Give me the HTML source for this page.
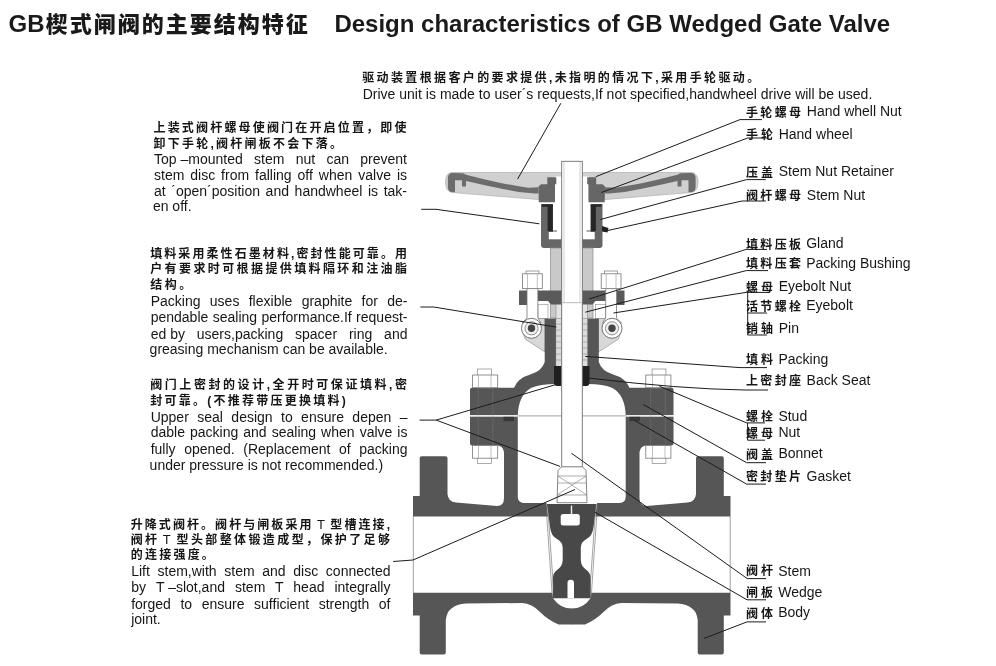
<!DOCTYPE html>
<html lang="zh"><head><meta charset="utf-8"><title>GB Wedged Gate Valve</title>
<style>
html,body{margin:0;padding:0;background:#fff;}
body{width:996px;height:666px;position:relative;overflow:hidden;font-family:"Liberation Sans","Noto Sans CJK SC",sans-serif;color:#161616;}
.t{position:absolute;white-space:nowrap;line-height:1;}
#txt{position:absolute;left:0;top:0;width:996px;height:666px;will-change:transform;}
.e{font-size:14px;}
.c{font-size:12px;font-weight:700;}
.ib{display:inline-block;white-space:pre;}
.lt{font-weight:400;font-size:13px;}
.j{text-align:justify;text-align-last:justify;white-space:normal;}
.h1{font-size:24px;font-weight:700;color:#1a1a1a;}
.h1 .zh{font-size:22px;font-weight:900;letter-spacing:2px;}
svg{position:absolute;left:0;top:0;}
</style></head>
<body>
<svg width="996" height="666" viewBox="0 0 996 666">


<g id="valve">
  <g>
    <!-- handwheel light shell -->
    <path d="M572,172.5 L451,172.5 Q445.5,173.5 445.5,182 Q445.5,191.5 452,192.5 L538,199.5 L572,199.5 Z" fill="#d0d0d0" stroke="#a8a8a8" stroke-width="0.6"/>
    <!-- white gap near stem -->
    <rect x="555" y="176.5" width="17" height="25" fill="#fff"/>
    <!-- rim hook -->
    <path d="M452,173 L463,173.3 Q466,174 466,177 L466,186.5 L462,186.5 L462,180.2 L455,180.2 L455,192.2 L451,192 Q447.9,191 447.9,187 L447.9,178 Q447.9,173.3 452,173 Z" fill="#6c6c6c"/>
    <!-- spoke -->
    <path d="M464,174.2 L487.3,179.9 L503,183.4 L518.8,186.2 L528.3,187.8 L538.5,187.3 L538.5,193.6 L534.6,193.6 L518.8,192 L503,188.9 L487.3,185.7 L466,181 Z" fill="#6c6c6c"/>
    <!-- hub -->
    <path d="M538.5,186.5 L541,184.3 L547.3,184.3 L547.3,177.2 L556.3,177.2 L556.3,184.3 L555,184.3 L555,202.3 L538.8,202.3 Z" fill="#666"/>
    <!-- yoke sleeve / stem nut housing -->
    <path d="M541,204 L553,204 L553,232 L561.6,232 L561.6,248 L544,248 Q541,248 541,245 Z" fill="#666"/>
    <rect x="548.8" y="232" width="12.8" height="7.3" fill="#fff"/>
    <rect x="553" y="204" width="8.6" height="28" fill="#fff"/>
    <rect x="547.6" y="205.5" width="5.2" height="25.5" fill="#262626"/>
    <rect x="542" y="204.3" width="10.8" height="2.4" fill="#262626"/>
    <path d="M549,231 L557,231" stroke="#333" stroke-width="0.8"/>
    <!-- yoke arm -->
    <rect x="550.5" y="248" width="11.5" height="70" fill="#c9c9c9" stroke="#8a8a8a" stroke-width="0.7"/>
    <!-- gland flange -->
    <rect x="519" y="290.5" width="8" height="14.5" fill="#5a5a5a"/>
    <path d="M537.8,290.5 L562,290.5 L562,304.5 L551,304.5 L548,301 L537.8,301 Z" fill="#5a5a5a"/>
    <!-- gland sleeve -->
    <rect x="556" y="304.5" width="6" height="14" fill="#e4e4e4" stroke="#8a8a8a" stroke-width="0.6"/>
    <rect x="538" y="304.5" width="10" height="14" fill="#fff" stroke="#8a8a8a" stroke-width="0.6"/>
    <!-- eyebolt nut -->
    <rect x="526" y="271" width="13" height="3.5" fill="#fff" stroke="#777" stroke-width="0.7"/>
    <rect x="522.5" y="273.8" width="19.8" height="14.8" fill="#fff" stroke="#777" stroke-width="0.8"/>
    <path d="M527.5,274 V288.5 M537.3,274 V288.5" stroke="#999" stroke-width="0.6"/>
    <!-- rib -->
    <path d="M537.8,318.5 L545,318.5 L545,352 L525,339 L523,333 Z" fill="#d8d8d8" stroke="#888" stroke-width="0.6"/>
    <!-- eyebolt shank + eye -->
    <path d="M527,288.6 L537.8,288.6 L537.8,318 L541,323 L522,323 L527,318 Z" fill="#fff" stroke="#777" stroke-width="0.8"/>
    <circle cx="531.5" cy="328.3" r="10" fill="#fff" stroke="#666" stroke-width="0.9"/>
    <circle cx="531.5" cy="328.3" r="6.6" fill="#eee" stroke="#777" stroke-width="0.8"/>
    <circle cx="531.5" cy="328.3" r="3.7" fill="#454545"/>
    <!-- packing -->
    <rect x="555.9" y="318.4" width="6.2" height="48" fill="#dcdcdc" stroke="#8a8a8a" stroke-width="0.5"/>
    <path d="M556,324 H562 M556,330 H562 M556,336 H562 M556,342 H562 M556,348 H562 M556,354 H562 M556,360 H562" stroke="#8a8a8a" stroke-width="0.6"/>
    <!-- bonnet (stuffing box + dome + flange) -->
    <path d="M544.7,318.4 L555.9,318.4 L555.9,384 Q540,384 531,388 Q518.5,395 517.8,415.3 L470,415.3 L470,389.7 Q470,387.7 472,387.7 L514,387.7 Q518,378 530.3,374.5 Q542,371 544.7,362 Z" fill="#565656"/>
    <!-- back seat -->
    <path d="M554,366 L561.7,366 L561.7,386 L557,386 Q554,386 554,382 Z" fill="#1f1f1f"/>
    <!-- gasket notch -->
    
    <!-- body flange top + neck + body -->
    <path d="M470,416.6 L517.8,416.6 L517.8,497 Q518,503 525,503 L546.5,503 L548,516.4 L413,516.4 L413,496 L419.7,496 L419.7,458 Q419.7,456.3 421.5,456.3 L445.5,456.3 Q447.5,456.3 447.5,458 L447.5,494 Q448,501.5 456,502.6 L497,506 Q504,506 504,498 L504,452 Q503,445.4 497,445.4 L472,445.4 Q470,445.4 470,443.4 Z" fill="#565656"/>
    <!-- body bottom -->
    <path d="M413,592.8 L552,592.8 L553,598.2 Q560,608.5 572,608.5 L572,624.5 L558.5,624.5 Q548,620 540,612 Q532,603.5 522,603 L466,603.5 Q447,605 445.8,620 L445.8,652.5 Q445.8,654.5 443.8,654.5 L421.7,654.5 Q419.7,654.5 419.7,652.5 L419.7,615.5 L413,615.5 Z" fill="#565656"/>
    <rect x="503.5" y="416.6" width="10.5" height="4.6" fill="#383838"/>
    <!-- flange face line -->
    <path d="M413.3,516 V593" stroke="#777" stroke-width="0.7"/>
    <!-- stud + nuts -->
    <rect x="477.6" y="369" width="13.8" height="19" fill="#fff" stroke="#888" stroke-width="0.7"/>
    <rect x="472.6" y="375" width="25.1" height="12.7" fill="#fff" stroke="#777" stroke-width="0.8"/>
    <path d="M478.5,375 V387.5 M491,375 V387.5" stroke="#999" stroke-width="0.6"/>
    <rect x="477.6" y="445.4" width="13.8" height="18" fill="#fff" stroke="#888" stroke-width="0.7"/>
    <rect x="472.6" y="445.6" width="25.1" height="12.6" fill="#fff" stroke="#777" stroke-width="0.8"/>
    <path d="M478.5,446 V458 M491,446 V458" stroke="#999" stroke-width="0.6"/>
    <path d="M478.2,388 V445 M492.8,388 V445" stroke="#6e6e6e" stroke-width="0.6"/>
    <!-- wedge half -->
    <path d="M572,504 L547,504 L550,527 Q551,536 557,539 Q562.7,542 562.7,548 L562.7,560 Q562.7,566 557,570 Q552.8,573 552.8,579 L552.8,598.2 L572,598.2 Z" fill="#484848"/>
    <!-- seat ring lines -->
    <path d="M546,505 L552.3,597 M547.6,505 L553.6,590" stroke="#666" stroke-width="0.6" fill="none"/>
  </g>
  <g transform="translate(1143.5,0) scale(-1,1)">
    <!-- handwheel light shell -->
    <path d="M572,172.5 L451,172.5 Q445.5,173.5 445.5,182 Q445.5,191.5 452,192.5 L538,199.5 L572,199.5 Z" fill="#d0d0d0" stroke="#a8a8a8" stroke-width="0.6"/>
    <!-- white gap near stem -->
    <rect x="555" y="176.5" width="17" height="25" fill="#fff"/>
    <!-- rim hook -->
    <path d="M452,173 L463,173.3 Q466,174 466,177 L466,186.5 L462,186.5 L462,180.2 L455,180.2 L455,192.2 L451,192 Q447.9,191 447.9,187 L447.9,178 Q447.9,173.3 452,173 Z" fill="#6c6c6c"/>
    <!-- spoke -->
    <path d="M464,174.2 L487.3,179.9 L503,183.4 L518.8,186.2 L528.3,187.8 L538.5,187.3 L538.5,193.6 L534.6,193.6 L518.8,192 L503,188.9 L487.3,185.7 L466,181 Z" fill="#6c6c6c"/>
    <!-- hub -->
    <path d="M538.5,186.5 L541,184.3 L547.3,184.3 L547.3,177.2 L556.3,177.2 L556.3,184.3 L555,184.3 L555,202.3 L538.8,202.3 Z" fill="#666"/>
    <!-- yoke sleeve / stem nut housing -->
    <path d="M541,204 L553,204 L553,232 L561.6,232 L561.6,248 L544,248 Q541,248 541,245 Z" fill="#666"/>
    <rect x="548.8" y="232" width="12.8" height="7.3" fill="#fff"/>
    <rect x="553" y="204" width="8.6" height="28" fill="#fff"/>
    <rect x="547.6" y="205.5" width="5.2" height="25.5" fill="#262626"/>
    <rect x="542" y="204.3" width="10.8" height="2.4" fill="#262626"/>
    <path d="M549,231 L557,231" stroke="#333" stroke-width="0.8"/>
    <!-- yoke arm -->
    <rect x="550.5" y="248" width="11.5" height="70" fill="#c9c9c9" stroke="#8a8a8a" stroke-width="0.7"/>
    <!-- gland flange -->
    <rect x="519" y="290.5" width="8" height="14.5" fill="#5a5a5a"/>
    <path d="M537.8,290.5 L562,290.5 L562,304.5 L551,304.5 L548,301 L537.8,301 Z" fill="#5a5a5a"/>
    <!-- gland sleeve -->
    <rect x="556" y="304.5" width="6" height="14" fill="#e4e4e4" stroke="#8a8a8a" stroke-width="0.6"/>
    <rect x="538" y="304.5" width="10" height="14" fill="#fff" stroke="#8a8a8a" stroke-width="0.6"/>
    <!-- eyebolt nut -->
    <rect x="526" y="271" width="13" height="3.5" fill="#fff" stroke="#777" stroke-width="0.7"/>
    <rect x="522.5" y="273.8" width="19.8" height="14.8" fill="#fff" stroke="#777" stroke-width="0.8"/>
    <path d="M527.5,274 V288.5 M537.3,274 V288.5" stroke="#999" stroke-width="0.6"/>
    <!-- rib -->
    <path d="M537.8,318.5 L545,318.5 L545,352 L525,339 L523,333 Z" fill="#d8d8d8" stroke="#888" stroke-width="0.6"/>
    <!-- eyebolt shank + eye -->
    <path d="M527,288.6 L537.8,288.6 L537.8,318 L541,323 L522,323 L527,318 Z" fill="#fff" stroke="#777" stroke-width="0.8"/>
    <circle cx="531.5" cy="328.3" r="10" fill="#fff" stroke="#666" stroke-width="0.9"/>
    <circle cx="531.5" cy="328.3" r="6.6" fill="#eee" stroke="#777" stroke-width="0.8"/>
    <circle cx="531.5" cy="328.3" r="3.7" fill="#454545"/>
    <!-- packing -->
    <rect x="555.9" y="318.4" width="6.2" height="48" fill="#dcdcdc" stroke="#8a8a8a" stroke-width="0.5"/>
    <path d="M556,324 H562 M556,330 H562 M556,336 H562 M556,342 H562 M556,348 H562 M556,354 H562 M556,360 H562" stroke="#8a8a8a" stroke-width="0.6"/>
    <!-- bonnet (stuffing box + dome + flange) -->
    <path d="M544.7,318.4 L555.9,318.4 L555.9,384 Q540,384 531,388 Q518.5,395 517.8,415.3 L470,415.3 L470,389.7 Q470,387.7 472,387.7 L514,387.7 Q518,378 530.3,374.5 Q542,371 544.7,362 Z" fill="#565656"/>
    <!-- back seat -->
    <path d="M554,366 L561.7,366 L561.7,386 L557,386 Q554,386 554,382 Z" fill="#1f1f1f"/>
    <!-- gasket notch -->
    
    <!-- body flange top + neck + body -->
    <path d="M470,416.6 L517.8,416.6 L517.8,497 Q518,503 525,503 L546.5,503 L548,516.4 L413,516.4 L413,496 L419.7,496 L419.7,458 Q419.7,456.3 421.5,456.3 L445.5,456.3 Q447.5,456.3 447.5,458 L447.5,494 Q448,501.5 456,502.6 L497,506 Q504,506 504,498 L504,452 Q503,445.4 497,445.4 L472,445.4 Q470,445.4 470,443.4 Z" fill="#565656"/>
    <!-- body bottom -->
    <path d="M413,592.8 L552,592.8 L553,598.2 Q560,608.5 572,608.5 L572,624.5 L558.5,624.5 Q548,620 540,612 Q532,603.5 522,603 L466,603.5 Q447,605 445.8,620 L445.8,652.5 Q445.8,654.5 443.8,654.5 L421.7,654.5 Q419.7,654.5 419.7,652.5 L419.7,615.5 L413,615.5 Z" fill="#565656"/>
    <rect x="503.5" y="416.6" width="10.5" height="4.6" fill="#383838"/>
    <!-- flange face line -->
    <path d="M413.3,516 V593" stroke="#777" stroke-width="0.7"/>
    <!-- stud + nuts -->
    <rect x="477.6" y="369" width="13.8" height="19" fill="#fff" stroke="#888" stroke-width="0.7"/>
    <rect x="472.6" y="375" width="25.1" height="12.7" fill="#fff" stroke="#777" stroke-width="0.8"/>
    <path d="M478.5,375 V387.5 M491,375 V387.5" stroke="#999" stroke-width="0.6"/>
    <rect x="477.6" y="445.4" width="13.8" height="18" fill="#fff" stroke="#888" stroke-width="0.7"/>
    <rect x="472.6" y="445.6" width="25.1" height="12.6" fill="#fff" stroke="#777" stroke-width="0.8"/>
    <path d="M478.5,446 V458 M491,446 V458" stroke="#999" stroke-width="0.6"/>
    <path d="M478.2,388 V445 M492.8,388 V445" stroke="#6e6e6e" stroke-width="0.6"/>
    <!-- wedge half -->
    <path d="M572,504 L547,504 L550,527 Q551,536 557,539 Q562.7,542 562.7,548 L562.7,560 Q562.7,566 557,570 Q552.8,573 552.8,579 L552.8,598.2 L572,598.2 Z" fill="#484848"/>
    <!-- seat ring lines -->
    <path d="M546,505 L552.3,597 M547.6,505 L553.6,590" stroke="#666" stroke-width="0.6" fill="none"/>
  </g>
  <!-- gasket line -->
  <path d="M470,415.9 H674" stroke="#fff" stroke-width="0.9"/>
  <path d="M517.8,415.9 H626.2" stroke="#888" stroke-width="0.8"/>
  <!-- T-slot cavity and slots in wedge -->
  <rect x="560.7" y="514" width="19.1" height="11.5" rx="2.5" fill="#fff"/>
  <rect x="570.8" y="505.5" width="1.4" height="9" fill="#eee"/>
  <path d="M567.5,598.2 L567.5,583 Q567.5,579.7 570.7,579.7 Q574,579.7 574,583 L574,598.2 Z" fill="#fff"/>
  <!-- stem -->
  <rect x="561.7" y="161.3" width="20.6" height="306" fill="#fff" stroke="#6d6d6d" stroke-width="0.9"/>
  <path d="M564,162 V302.5 M580,162 V302.5" stroke="#c4c4c4" stroke-width="0.8"/>
  <path d="M562,302.7 H582" stroke="#aaa" stroke-width="0.8"/>
  <!-- T head -->
  <path d="M561.7,466.8 L582.3,466.8 L586,470.5 L587,502.7 L557,502.7 L558,470.5 Z" fill="#fff" stroke="#666" stroke-width="0.8"/>
  <path d="M558,476 H586 M557.5,483 H586.5 M557.2,495 H586.8 M558,476 L586.8,495 M586,476 L557.2,495" stroke="#777" stroke-width="0.6" fill="none"/>
  <path d="M602,226 L608.5,228 L607.5,232.5 L602,231.5 Z" fill="#222"/>
</g>

<!-- leader lines -->
<g fill="none" stroke="#1c1c1c" stroke-width="1">
  <path d="M560.9,103.2 L517.6,179.1"/>
  <path d="M421.2,209.3 L436,209.3 L539.4,223.8"/>
  <path d="M420.4,307 L433.7,307 L556.3,327.1"/>
  <path d="M419.6,420.1 L436.2,420.1 L555.1,384.8 M436.2,420.1 L560,466.4"/>
  <path d="M393.2,561.5 L413,560 L575,489.5"/>
  <!-- right -->
  <path d="M762,119.6 L740,119.6 L595.8,176.7"/>
  <path d="M769,138 L747.7,138 L601.4,192.5"/>
  <path d="M765.8,179.6 L746.6,179.6 L600.3,219.5"/>
  <path d="M765.8,201 L742,201 L607,230.7"/>
  <path d="M767,249.4 L746.2,249.4 L589.2,299"/>
  <path d="M768,270.6 L746.2,270.6 L585.3,312.2"/>
  <path d="M767,292.4 L746.2,292.4 L613.4,313"/>
  <path d="M747.7,292.4 V335 M747.7,313 H767 M747.7,335 H767"/>
  <path d="M767,367.6 L740,367.6 L585.3,356.4"/>
  <path d="M768,390 L745,390 Q680,389 589.2,378.1"/>
  <path d="M765,422.9 L746.6,422.9 L659.4,386.2"/>
  <path d="M747.6,422.9 V440.2 H765"/>
  <path d="M766,462.7 L746.6,462.7 L643.2,404.5"/>
  <path d="M766,484.1 L746.6,484.1 L635,420.7"/>
  <path d="M766,578.6 L747.2,578.6 L571.4,453.2"/>
  <path d="M766,599.8 L747,599.8 L594.5,512"/>
  <path d="M766,621.9 L747,621.9 L704,638.4"/>
</g>
</svg>

<div id="txt">
<div class="t h1" style="left:8.6px;top:12.2px">GB</div>
<div class="t h1" style="left:45.8px;top:11.8px"><span class="zh">楔式闸阀的主要结构特征</span></div>
<div class="t h1" style="left:334.4px;top:12.2px">Design characteristics of GB Wedged Gate Valve</div>
<div class="t c j" style="left:362.2px;top:71.5px;width:397.0px;">驱动装置根据客户的要求提供,未指明的情况下,采用手轮驱动。</div>
<div class="t e j" style="left:362.7px;top:86.8px;width:509.6px;">Drive unit is made to user´s requests,If not specified,handwheel drive will be used.</div>
<div class="t c j" style="left:153.5px;top:122.0px;width:253.0px;">上装式阀杆螺母使阀门在开启位置，即使</div>
<div class="t c j" style="left:153.5px;top:138.1px;width:188.6px;">卸下手轮,阀杆闸板不会下落。</div>
<div class="t e j" style="left:154.0px;top:151.7px;width:253.0px;"><span class="ib">Top –mounted</span> stem nut can prevent</div>
<div class="t e j" style="left:154.0px;top:167.7px;width:253.0px;">stem disc from falling off when valve is</div>
<div class="t e j" style="left:154.0px;top:183.5px;width:253.0px;">at ´open´position and handwheel is tak-</div>
<div class="t e" style="left:152.9px;top:198.9px;">en off.</div>
<div class="t c j" style="left:150.2px;top:247.6px;width:256.8px;">填料采用柔性石墨材料,密封性能可靠。用</div>
<div class="t c j" style="left:150.2px;top:263.3px;width:256.8px;">户有要求时可根据提供填料隔环和注油脂</div>
<div class="t c j" style="left:150.2px;top:279.4px;width:41.0px;">结构。</div>
<div class="t e j" style="left:150.7px;top:294.4px;width:256.8px;">Packing uses flexible graphite for de-</div>
<div class="t e j" style="left:150.7px;top:310.4px;width:256.8px;">pendable sealing performance.If request-</div>
<div class="t e j" style="left:150.7px;top:326.5px;width:256.8px;"><span class="ib">ed by</span> users,packing spacer ring and</div>
<div class="t e" style="left:149.6px;top:341.9px;">greasing mechanism can be available.</div>
<div class="t c j" style="left:150.2px;top:378.7px;width:256.8px;">阀门上密封的设计,全开时可保证填料,密</div>
<div class="t c j" style="left:150.2px;top:394.7px;width:195.6px;">封可靠。(不推荐带压更换填料)</div>
<div class="t e j" style="left:150.7px;top:409.5px;width:256.8px;">Upper seal design to ensure depen –</div>
<div class="t e j" style="left:150.7px;top:425.2px;width:256.8px;">dable packing and sealing when valve is</div>
<div class="t e j" style="left:150.7px;top:441.8px;width:256.8px;">fully opened. (Replacement of packing</div>
<div class="t e" style="left:149.6px;top:457.5px;">under pressure is not recommended.)</div>
<div class="t c j" style="left:130.7px;top:517.6px;width:259.3px;">升降式阀杆。阀杆与闸板采用<span class="ib lt"> T </span>型槽连接,</div>
<div class="t c j" style="left:130.7px;top:533.4px;width:259.3px;">阀杆<span class="ib lt"> T </span>型头部整体锻造成型，保护了足够</div>
<div class="t c j" style="left:130.7px;top:549.4px;width:83.2px;">的连接强度。</div>
<div class="t e j" style="left:131.2px;top:564.1px;width:259.3px;">Lift stem,with stem and disc connected</div>
<div class="t e j" style="left:131.2px;top:579.9px;width:259.3px;">by <span class="ib">T –slot,and</span> stem T head integrally</div>
<div class="t e j" style="left:131.2px;top:596.5px;width:259.3px;">forged to ensure sufficient strength of</div>
<div class="t e" style="left:131.2px;top:611.9px;">joint.</div>
<div class="t c j" style="left:746.0px;top:106.8px;width:55.0px;">手轮螺母</div>
<div class="t e" style="left:806.8px;top:104.0px;">Hand whell Nut</div>
<div class="t c j" style="left:746.0px;top:128.9px;width:26.9px;">手轮</div>
<div class="t e" style="left:778.7px;top:126.5px;">Hand wheel</div>
<div class="t c j" style="left:746.0px;top:167.1px;width:26.9px;">压盖</div>
<div class="t e" style="left:778.7px;top:163.6px;">Stem Nut Retainer</div>
<div class="t c j" style="left:746.0px;top:189.8px;width:55.0px;">阀杆螺母</div>
<div class="t e" style="left:806.8px;top:187.7px;">Stem Nut</div>
<div class="t c j" style="left:746.0px;top:238.8px;width:55.0px;">填料压板</div>
<div class="t e" style="left:806.2px;top:235.8px;">Gland</div>
<div class="t c j" style="left:746.0px;top:258.3px;width:55.0px;">填料压套</div>
<div class="t e" style="left:806.2px;top:255.9px;">Packing Bushing</div>
<div class="t c j" style="left:746.0px;top:282.0px;width:26.9px;">螺母</div>
<div class="t e" style="left:778.7px;top:279.2px;">Eyebolt Nut</div>
<div class="t c j" style="left:746.0px;top:300.5px;width:55.0px;">活节螺栓</div>
<div class="t e" style="left:806.2px;top:297.6px;">Eyebolt</div>
<div class="t c j" style="left:746.0px;top:323.2px;width:26.9px;">销轴</div>
<div class="t e" style="left:778.7px;top:320.7px;">Pin</div>
<div class="t c j" style="left:746.0px;top:354.3px;width:26.9px;">填料</div>
<div class="t e" style="left:778.4px;top:351.9px;">Packing</div>
<div class="t c j" style="left:746.0px;top:374.6px;width:55.0px;">上密封座</div>
<div class="t e" style="left:806.6px;top:372.9px;">Back Seat</div>
<div class="t c j" style="left:746.0px;top:410.6px;width:26.9px;">螺栓</div>
<div class="t e" style="left:778.4px;top:408.9px;">Stud</div>
<div class="t c j" style="left:746.0px;top:428.2px;width:26.9px;">螺母</div>
<div class="t e" style="left:778.4px;top:425.1px;">Nut</div>
<div class="t c j" style="left:746.0px;top:448.5px;width:26.9px;">阀盖</div>
<div class="t e" style="left:778.4px;top:445.9px;">Bonnet</div>
<div class="t c j" style="left:746.0px;top:471.0px;width:55.0px;">密封垫片</div>
<div class="t e" style="left:806.6px;top:469.1px;">Gasket</div>
<div class="t c j" style="left:746.0px;top:565.3px;width:26.9px;">阀杆</div>
<div class="t e" style="left:778.2px;top:563.8px;">Stem</div>
<div class="t c j" style="left:746.0px;top:586.6px;width:26.9px;">闸板</div>
<div class="t e" style="left:778.2px;top:584.5px;">Wedge</div>
<div class="t c j" style="left:746.0px;top:608.1px;width:26.9px;">阀体</div>
<div class="t e" style="left:778.2px;top:605.2px;">Body</div>
</div>
</body></html>
